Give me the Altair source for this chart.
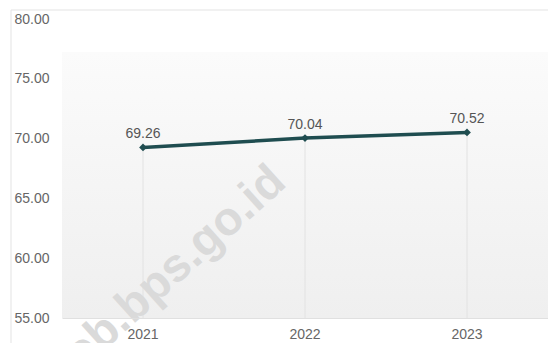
import altair as alt
import pandas as pd

years = ["2021", "2022", "2023"]
values = [69.26, 70.04, 70.52]
y_ticks = [55, 60, 65, 70, 75, 80]
watermark = "web.bps.go.id"

df = pd.DataFrame({"year": years, "value": values})
one = pd.DataFrame({"k": [0]})

FONT = "Liberation Sans"
LINE = "#1f4d50"
W, H = 486, 299

x_enc = alt.X("year:N", sort=years, title=None,
              scale=alt.Scale(paddingInner=0, paddingOuter=0),
              axis=alt.Axis(labelAngle=0, ticks=False, labelPadding=9, domainColor="#e0e0e0",
                            labelColor="#666666", labelFontSize=14, labelFont=FONT, zindex=1))
y_enc = alt.Y("value:Q", title=None,
              scale=alt.Scale(domain=[55, 80], nice=False, zero=False),
              axis=alt.Axis(values=y_ticks, format=".2f", grid=False, domain=False, ticks=False,
                            labelAlign="left", labelPadding=48, labelBaseline="middle",
                            labelColor="#666666", labelFontSize=14, labelFont=FONT, zindex=1))

card = alt.Chart(one).mark_rect(fill="white", stroke="#e3e3e3", strokeWidth=1).encode(
    x=alt.value(-51), x2=alt.value(W + 6), y=alt.value(-9), y2=alt.value(400))

bg = alt.Chart(one).mark_rect(
    fill=alt.Gradient(gradient="linear", x1=0, x2=0, y1=0, y2=1,
                      stops=[alt.GradientStop(color="#fbfbfb", offset=0),
                             alt.GradientStop(color="#efefef", offset=1)])
).encode(x=alt.value(0), x2=alt.value(W), y=alt.value(33), y2=alt.value(H))

drops = alt.Chart(df).mark_rule(color="#e2e2e2", strokeWidth=1).encode(
    x=x_enc, y=y_enc, y2=alt.datum(55))

wm = alt.Chart(one).mark_text(
    text=watermark, font=FONT, fontSize=47, fontWeight="bold", color="#dadada",
    angle=318, align="right", baseline="alphabetic"
).encode(x=alt.value(226), y=alt.value(166))

line = alt.Chart(df).mark_line(color=LINE, strokeWidth=3.5).encode(x=x_enc, y=y_enc)
pts = alt.Chart(df).mark_point(shape="diamond", filled=True, size=60, color=LINE, opacity=1).encode(
    x=x_enc, y=y_enc)
labels = alt.Chart(df).mark_text(dy=-9, baseline="alphabetic", fontSize=14, font=FONT,
                                 color="#555555").encode(
    x=x_enc, y=y_enc, text=alt.Text("value:Q", format=".2f"))

chart = alt.layer(card, bg, drops, wm, line, pts, labels).properties(
    width=W, height=H,
    padding={"left": 54, "top": 11, "right": 0, "bottom": 25},
    autosize=alt.AutoSizeParams(type="none"),
    background="white",
).configure_view(stroke=None)

chart.save("out.html", embed_options={"renderer": "svg", "actions": False})
